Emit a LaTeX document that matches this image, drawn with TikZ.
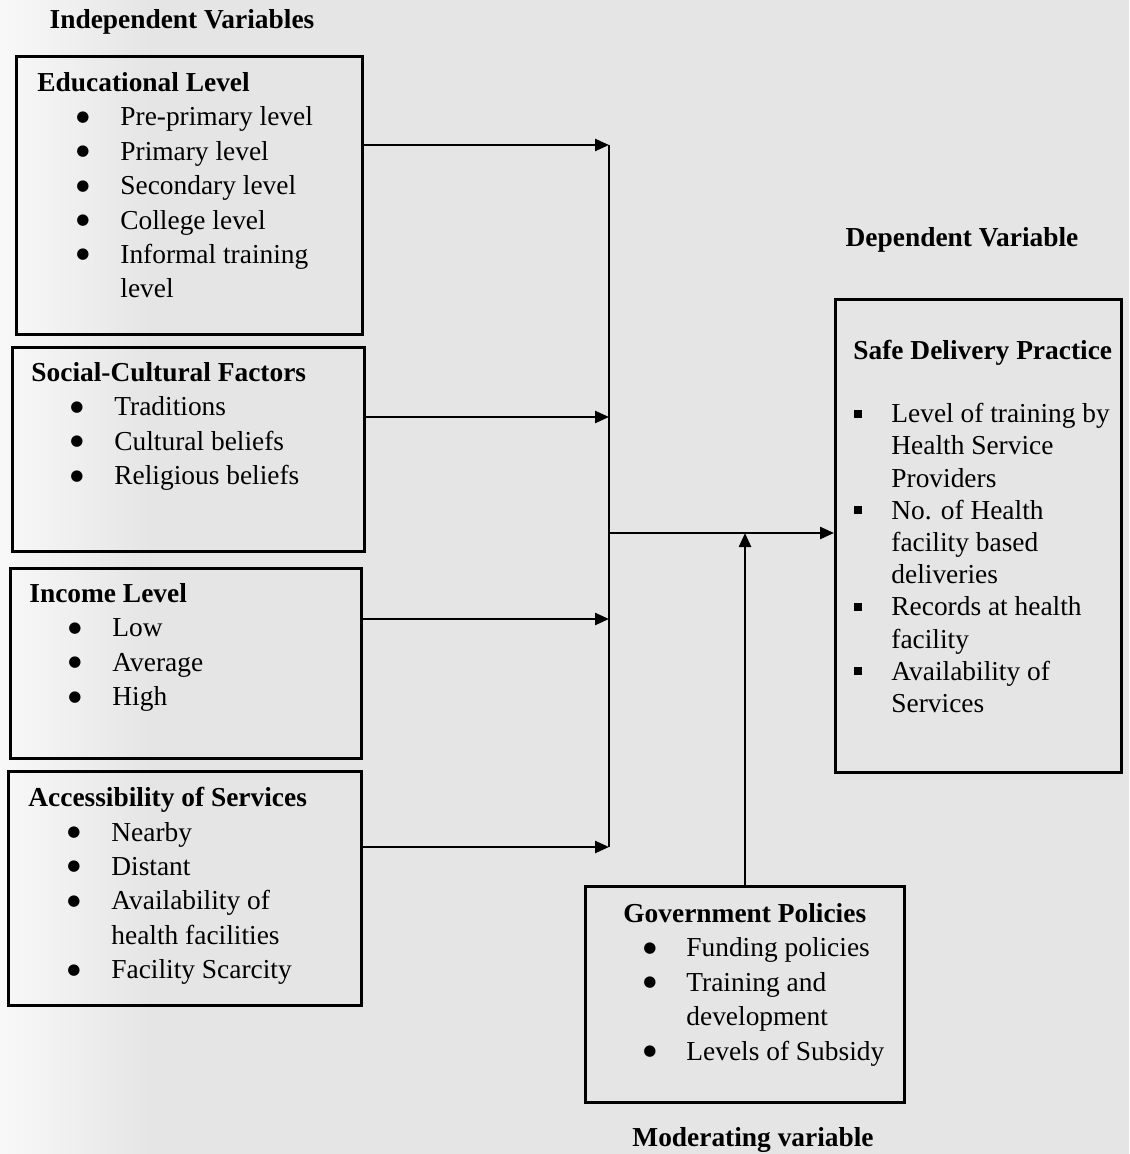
\documentclass[tikz,border=0pt]{standalone}
\usepackage{fontspec}
\setmainfont{Liberation Serif}
\newfontfamily\dotfont{DejaVu Sans}
\usetikzlibrary{arrows.meta, positioning}

\definecolor{paper}{RGB}{229,229,229}

\newcommand{\bigdot}{\raisebox{2.3pt}{\dotfont\fontsize{7.5}{7.5}\selectfont ●}}
\newcommand{\itm}[1]{\hspace*{19.5pt}\makebox[22pt][l]{\bigdot}#1}
\newcommand{\itmcont}[1]{\hspace*{41.5pt}#1}
\newcommand{\gitm}[1]{\hspace*{10pt}\makebox[21.5pt][l]{\bigdot}#1}
\newcommand{\gitmcont}[1]{\hspace*{31.5pt}#1}
\newcommand{\sqitm}[1]{\makebox[19pt][l]{\hspace*{0.5pt}\rule[2.4pt]{4pt}{4pt}}#1}
\newcommand{\sqitmcont}[1]{\hspace*{19pt}#1}

\begin{document}
\begin{tikzpicture}[x=0.5pt, y=-0.5pt, font=\fontsize{13.7}{17.2}\selectfont]
  \tikzstyle{factor} = [draw, line width=1.5pt, anchor=north west, inner sep=0pt]
  \tikzstyle{content} = [anchor=north west, align=left, inner sep=0pt]
  \tikzstyle{heading} = [font=\fontsize{13.7}{17.2}\selectfont\bfseries, inner sep=0pt]
  \tikzstyle{bus} = [line width=1.2pt];
  \tikzstyle{link} = [bus, -{Triangle[length=7pt,width=6pt]}];

  \useasboundingbox (0,0) rectangle (1129,1154);
  \fill[paper] (0,0) rectangle (1129,1154);
  \shade[left color=paper!25, right color=paper] (0,0) rectangle (150,1154);

  % independent variables
  \node[heading] (indep) at (182,22) {Independent Variables};

  \node[factor, minimum width=173pt, minimum height=139pt] (edu) at (15,55) {};
  \node[content] (edutxt) at ([xshift=11pt, yshift=-8.5pt]edu.north west)
    {\textbf{Educational Level}\\
     \itm{Pre-primary level}\\
     \itm{Primary level}\\
     \itm{Secondary level}\\
     \itm{College level}\\
     \itm{Informal training}\\
     \itmcont{level}};

  \node[factor, minimum width=176pt, minimum height=102pt] (soc) at (11,346) {};
  \node[content] (soctxt) at ([xshift=10pt, yshift=-8pt]soc.north west)
    {\textbf{Social-Cultural Factors}\\
     \itm{Traditions}\\
     \itm{Cultural beliefs}\\
     \itm{Religious beliefs}};

  \node[factor, minimum width=175.5pt, minimum height=95pt] (inc) at (9,567) {};
  \node[content] (inctxt) at ([xshift=10pt, yshift=-8pt]inc.north west)
    {\textbf{Income Level}\\
     \itm{Low}\\
     \itm{Average}\\
     \itm{High}};

  \node[factor, minimum width=176.5pt, minimum height=117pt] (acc) at (7,770) {};
  \node[content] (acctxt) at ([xshift=10.5pt, yshift=-8.5pt]acc.north west)
    {\textbf{Accessibility of Services}\\
     \itm{Nearby}\\
     \itm{Distant}\\
     \itm{Availability of}\\
     \itmcont{health facilities}\\
     \itm{Facility Scarcity}};

  % dependent variable
  \node[heading] (dep) at (962,240) {Dependent Variable};

  \node[factor, minimum width=143pt, minimum height=236.5pt] (dv) at (834,298) {};
  \node[content, font=\fontsize{13.7}{16.1}\selectfont] (dvtxt) at ([xshift=9.5pt, yshift=-21pt]dv.north west)
    {\textbf{Safe Delivery Practice}\\[15.4pt]
     \sqitm{Level of training by}\\
     \sqitmcont{Health Service}\\
     \sqitmcont{Providers}\\
     \sqitm{No. of Health}\\
     \sqitmcont{facility based}\\
     \sqitmcont{deliveries}\\
     \sqitm{Records at health}\\
     \sqitmcont{facility}\\
     \sqitm{Availability of}\\
     \sqitmcont{Services}};

  % moderating variable
  \node[factor, minimum width=159.5pt, minimum height=108pt] (gov) at (584,885) {};
  \node[content] (govtxt) at ([xshift=19.5pt, yshift=-9pt]gov.north west)
    {\textbf{Government Policies}\\
     \gitm{Funding policies}\\
     \gitm{Training and}\\
     \gitmcont{development}\\
     \gitm{Levels of Subsidy}};

  \node[heading] (mod) at (753,1140) {Moderating variable};

  % connectors
  \coordinate (j1) at (609,145);
  \coordinate (j2) at (609,417);
  \coordinate (j3) at (609,619);
  \coordinate (j4) at (609,847);
  \coordinate (jo) at (609,533);

  \draw[link] (edu.east |- j1) -- (j1);
  \draw[link] (soc.east |- j2) -- (j2);
  \draw[link] (inc.east |- j3) -- (j3);
  \draw[link] (acc.east |- j4) -- (j4);
  \draw[bus] (j1) -- (j4);
  \draw[link] (jo) -- (jo -| dv.west);
  \draw[link] (gov.north) -- (gov.north |- jo);
\end{tikzpicture}
\end{document}
